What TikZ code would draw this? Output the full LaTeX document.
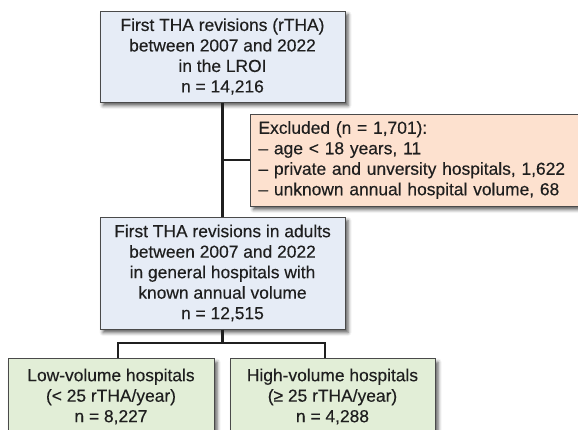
\documentclass[tikz,border=0pt]{standalone}
\usepackage{fontspec}
\setmainfont{Liberation Sans}[FakeBold=0.3]
\usepackage{xcolor}
\usepackage{tikz}
\usetikzlibrary{shadows.blur}

\definecolor{boxblue}{HTML}{E6ECF6}
\definecolor{boxorange}{HTML}{FDE1CF}
\definecolor{boxgreen}{HTML}{E2EED7}
\definecolor{boxline}{HTML}{4A4A4A}

\begin{document}
\begin{tikzpicture}[x=1pt, y=-1pt,
    block/.style={rectangle, draw=boxline, line width=1pt, fill=boxblue,
                  minimum width=245pt, align=center, inner sep=0pt, text=black!88,
                  font=\fontsize{17.4pt}{20.5pt}\selectfont,
                  blur shadow={shadow xshift=3pt, shadow yshift=-3.5pt, shadow blur radius=3.5pt, shadow opacity=65}},
    conn/.style={line width=2.7pt, draw=black!88}
]
\useasboundingbox (0,0) rectangle (578,429);
\clip (0,0) rectangle (578,429);

\node[block, minimum height=91pt] (top) at (222.5,56.5) {First THA revisions (rTHA)\\between 2007 and 2022\\in the LROI\\n = 14,216};
\node[block, fill=boxorange, anchor=west, minimum width=345pt, minimum height=92pt,
      align=left, text width=329pt] (excl) at (250,160) {Excluded (n = 1,701):\\– age < 18 years, 11\\– private and unversity hospitals, 1,622\\– unknown annual hospital volume, 68};
\node[block, minimum height=112pt] (mid) at (222.5,273) {First THA revisions in adults\\between 2007 and 2022\\in general hospitals with\\known annual volume\\n = 12,515};
\node[block, fill=boxgreen, anchor=north, minimum width=206pt, minimum height=76pt] (low) at (111,358) {Low-volume hospitals\\(< 25 rTHA/year)\\n = 8,227};
\node[block, fill=boxgreen, anchor=north, minimum width=205pt, minimum height=76pt] (high) at (332.5,358) {High-volume hospitals\\(≥ 25 rTHA/year)\\n = 4,288};

\coordinate (jl) at (118,343);
\coordinate (jr) at (325,343);
\draw[conn] (top) -- (mid);
\draw[conn] (top.south |- excl.west) -- (excl.west);
\draw[conn] (mid.south) -- (mid.south |- jl);
\draw[conn] (low.north -| jl) -- (jl) -- (jr) -- (high.north -| jr);
\end{tikzpicture}
\end{document}
